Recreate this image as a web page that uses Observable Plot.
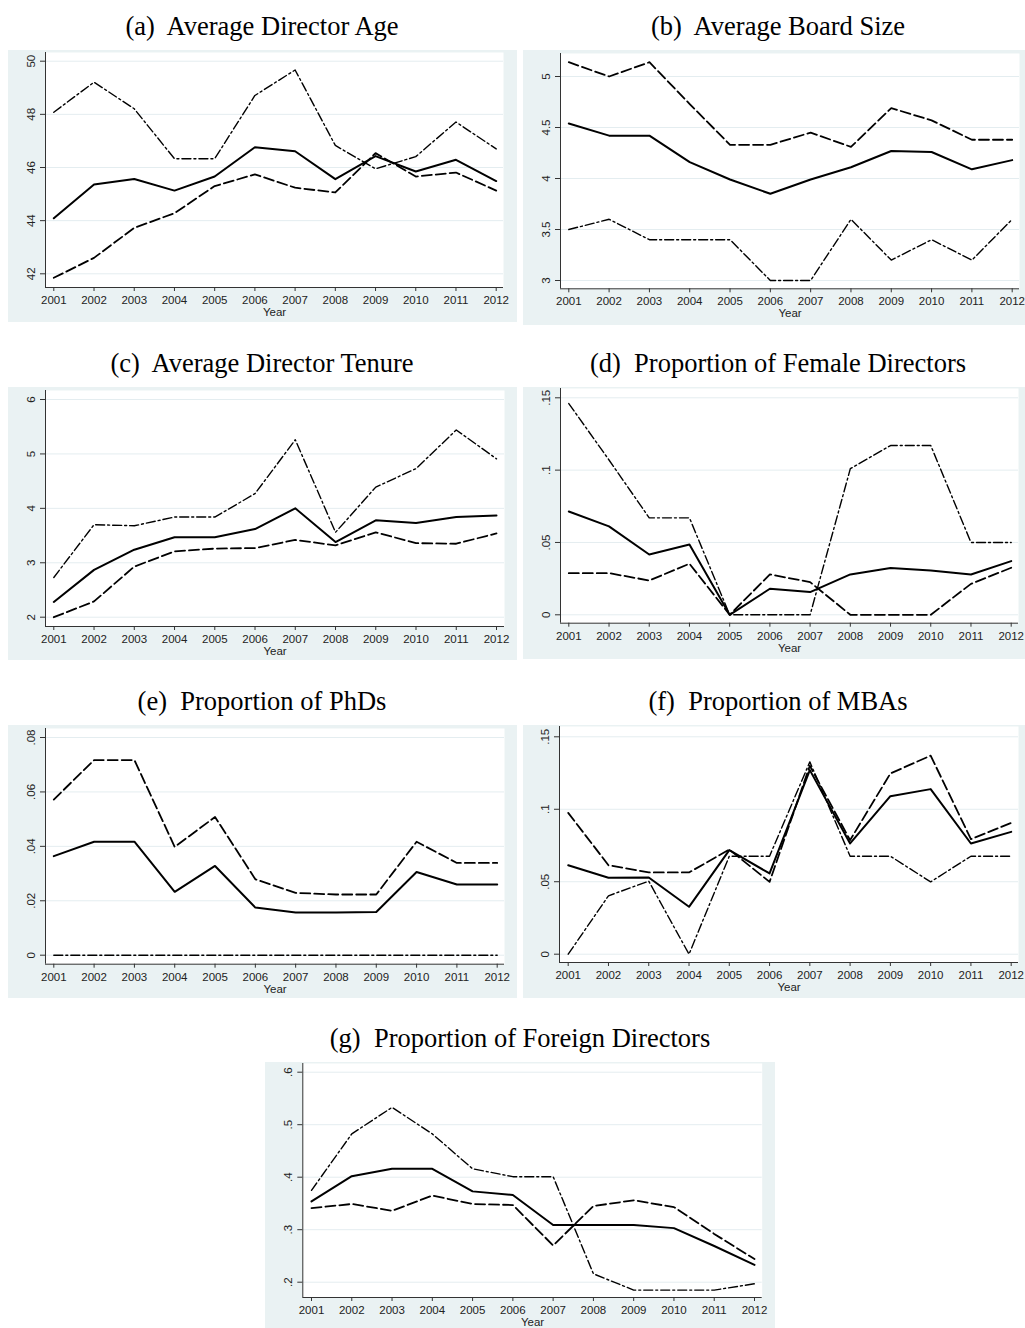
<!DOCTYPE html>
<html><head><meta charset="utf-8">
<script src="https://cdn.jsdelivr.net/npm/d3@7"></script>
<script src="https://cdn.jsdelivr.net/npm/@observablehq/plot@0.6"></script>
<style>
html,body{margin:0;padding:0;background:#fff;}
#root{position:relative;width:1025px;height:1328px;overflow:hidden;}
.title{position:absolute;width:600px;text-align:center;font-family:"Liberation Serif","Times New Roman",serif;font-size:26.5px;line-height:26px;color:#000;white-space:pre;}
.panel{position:absolute;}
.panel svg{display:block;}
</style></head><body><div id="root"></div>
<script>
// ---------- data ----------
const years = [2001,2002,2003,2004,2005,2006,2007,2008,2009,2010,2011,2012];

// (a) Average Director Age
const ageSeries1 = [44.09,45.36,45.57,45.13,45.66,46.76,46.61,45.56,46.43,45.85,46.29,45.49];
const ageSeries2 = [41.85,42.60,43.73,44.28,45.30,45.74,45.24,45.06,46.54,45.66,45.81,45.13];
const ageSeries3 = [48.08,49.21,48.21,46.33,46.33,48.71,49.67,46.83,45.95,46.41,47.71,46.70];
const ageTicks = [42,44,46,48,50];
const ageTickLabels = ["42","44","46","48","50"];

// (b) Average Board Size
const boardSeries1 = [4.54,4.42,4.42,4.16,3.99,3.85,3.99,4.11,4.27,4.26,4.09,4.18];
const boardSeries2 = [5.14,5.00,5.14,4.73,4.33,4.33,4.45,4.31,4.69,4.57,4.38,4.38];
const boardSeries3 = [3.5,3.6,3.4,3.4,3.4,3.0,3.0,3.6,3.2,3.4,3.2,3.6];
const boardTicks = [3,3.5,4,4.5,5];
const boardTickLabels = ["3","3.5","4","4.5","5"];

// (c) Average Director Tenure
const tenureSeries1 = [2.28,2.87,3.24,3.47,3.47,3.62,4.00,3.38,3.78,3.73,3.84,3.87];
const tenureSeries2 = [2.00,2.29,2.93,3.21,3.26,3.27,3.42,3.32,3.56,3.36,3.35,3.54];
const tenureSeries3 = [2.73,3.70,3.68,3.84,3.84,4.27,5.26,3.56,4.39,4.73,5.44,4.91];
const tenureTicks = [2,3,4,5,6];
const tenureTickLabels = ["2","3","4","5","6"];

// (d) Proportion of Female Directors
const femaleSeries1 = [0.0714,0.0611,0.0417,0.0486,0,0.018,0.0157,0.0279,0.0323,0.0306,0.0279,0.0371];
const femaleSeries2 = [0.0288,0.0288,0.0237,0.0353,0,0.0279,0.0226,0,0,0,0.0214,0.0325];
const femaleSeries3 = [0.146,0.107,0.067,0.067,0,0,0,0.101,0.117,0.117,0.050,0.050];
const femaleTicks = [0,0.05,0.1,0.15];
const femaleTickLabels = ["0",".05",".1",".15"];

// (e) Proportion of PhDs
const phdSeries1 = [0.0364,0.0417,0.0417,0.0233,0.0328,0.0175,0.0157,0.0157,0.0159,0.0306,0.026,0.026];
const phdSeries2 = [0.0572,0.0717,0.0717,0.0398,0.0508,0.0279,0.0229,0.0223,0.0223,0.0417,0.0339,0.0339];
const phdSeries3 = [0,0,0,0,0,0,0,0,0,0,0,0];
const phdTicks = [0,0.02,0.04,0.06,0.08];
const phdTickLabels = ["0",".02",".04",".06",".08"];

// (f) Proportion of MBAs
const mbaSeries1 = [0.0614,0.0527,0.0529,0.0327,0.0718,0.0557,0.127,0.0764,0.109,0.1139,0.0764,0.0844];
const mbaSeries2 = [0.0975,0.0614,0.0564,0.0564,0.0722,0.0499,0.130,0.0787,0.1247,0.137,0.0794,0.0906];
const mbaSeries3 = [0,0.0403,0.0504,0,0.0676,0.0676,0.1327,0.0676,0.0676,0.0499,0.0676,0.0676];
const mbaTicks = [0,0.05,0.1,0.15];
const mbaTickLabels = ["0",".05",".1",".15"];

// (g) Proportion of Foreign Directors
const foreignSeries1 = [0.354,0.402,0.416,0.416,0.373,0.366,0.309,0.309,0.309,0.303,0.269,0.233];
const foreignSeries2 = [0.341,0.349,0.336,0.365,0.349,0.347,0.270,0.345,0.356,0.343,0.292,0.244];
const foreignSeries3 = [0.375,0.4825,0.533,0.4825,0.416,0.401,0.401,0.216,0.185,0.185,0.185,0.197];
const foreignTicks = [0.2,0.3,0.4,0.5,0.6];
const foreignTickLabels = [".2",".3",".4",".5",".6"];

// ---------- layout (page pixels) ----------
const panels = [
  {title:"(a)  Average Director Age", cx:262, s:[ageSeries1,ageSeries2,ageSeries3], ticks:ageTicks, labels:ageTickLabels,
   frame:[8,50,517,322], plot:[45,52,503,287], xPix:[53.3,495.7], yRef:[50,60.7,42,273.3]},
  {title:"(b)  Average Board Size", cx:778, s:[boardSeries1,boardSeries2,boardSeries3], ticks:boardTicks, labels:boardTickLabels,
   frame:[523,50,1025,325], plot:[560,53,1019,288.3], xPix:[568.3,1011.7], yRef:[5,76,3,280]},
  {title:"(c)  Average Director Tenure", cx:262, s:[tenureSeries1,tenureSeries2,tenureSeries3], ticks:tenureTicks, labels:tenureTickLabels,
   frame:[8,387,517,660], plot:[45,390,504,626], xPix:[53.3,496], yRef:[6,399,2,616.7]},
  {title:"(d)  Proportion of Female Directors", cx:778, s:[femaleSeries1,femaleSeries2,femaleSeries3], ticks:femaleTicks, labels:femaleTickLabels,
   frame:[523,387,1025,659], plot:[560,388,1018,622.7], xPix:[568.3,1010.7], yRef:[0.15,397.3,0,614.3]},
  {title:"(e)  Proportion of PhDs", cx:262, s:[phdSeries1,phdSeries2,phdSeries3], ticks:phdTicks, labels:phdTickLabels,
   frame:[8,725,517,998], plot:[45,728,504,963.7], xPix:[53.3,496.7], yRef:[0.08,737,0,954.7]},
  {title:"(f)  Proportion of MBAs", cx:778, s:[mbaSeries1,mbaSeries2,mbaSeries3], ticks:mbaTicks, labels:mbaTickLabels,
   frame:[523,725,1025,998], plot:[559,726,1018,962], xPix:[567.7,1010.7], yRef:[0.15,736.3,0,953.7]},
  {title:"(g)  Proportion of Foreign Directors", cx:520, s:[foreignSeries1,foreignSeries2,foreignSeries3], ticks:foreignTicks, labels:foreignTickLabels,
   frame:[265,1062,775,1328], plot:[302.3,1063,761.7,1297], xPix:[311,754], yRef:[0.6,1071.7,0.2,1281.7]}
];

const lineStyles = [
  {stroke:"#000", strokeWidth:2},
  {stroke:"#000", strokeWidth:1.8, strokeDasharray:"10,4"},
  {stroke:"#000", strokeWidth:1.4, strokeDasharray:"9,3,2,3"}
];

const root = document.getElementById("root");
const y0 = years[0], y1 = years[years.length-1];

for (const p of panels) {
  const [fL,fT,fR,fB] = p.frame;
  const [pL,pT,pR,pB] = p.plot;
  const ppy = (p.xPix[1]-p.xPix[0])/(y1-y0);
  const xd = [y0-(p.xPix[0]-pL)/ppy, y1+(pR-p.xPix[1])/ppy];
  const [v1,q1,v2,q2] = p.yRef;
  const ppu = (q2-q1)/(v1-v2);
  const yd = [v2-(pB-q2)/ppu, v1+(q1-pT)/ppu];

  const t = document.createElement("div");
  t.className = "title";
  t.textContent = p.title;
  t.style.left = (p.cx-300)+"px";
  t.style.top = (fT-37)+"px";
  root.appendChild(t);

  const chart = Plot.plot({
    width: fR-fL, height: fB-fT,
    marginLeft: pL-fL, marginRight: fR-pR, marginTop: pT-fT, marginBottom: fB-pB,
    x: {domain: xd},
    y: {domain: yd},
    style: {background:"#eaf2f3", fontFamily:"'Liberation Sans', Arial, sans-serif", fontSize:"11.5px", color:"#222", overflow:"visible"},
    marks: [
      Plot.frame({fill:"white", stroke:"none"}),
      Plot.gridY({ticks: p.ticks, stroke:"#e4edf0", strokeOpacity:1, strokeWidth:1}),
      ...p.s.map((arr,k) => Plot.line(arr, {x:(d,i)=>years[i], y:d=>d, ...lineStyles[k], strokeLinejoin:"round"})),
      Plot.ruleX([xd[0]], {stroke:"#333", strokeWidth:1}),
      Plot.ruleY([yd[0]], {stroke:"#333", strokeWidth:1}),
      Plot.axisX({ticks: years, tickFormat: d=>String(d), tickSize:4, tickPadding:4.5, fontSize:11.5, label:null, stroke:"#333"}),
      Plot.axisY({ticks: p.ticks, tickFormat: d=>p.labels[p.ticks.indexOf(d)], tickRotate:-90, tickSize:5, tickPadding:6, fontSize:11.5, label:null, stroke:"#333"}),
      Plot.text(["Year"], {frameAnchor:"bottom", text:d=>d, dy:28.5, fontSize:11.5})
    ]
  });
  const wrap = document.createElement("div");
  wrap.className = "panel";
  wrap.style.left = fL+"px";
  wrap.style.top = fT+"px";
  wrap.appendChild(chart);
  root.appendChild(wrap);
}
</script>
</body></html>
